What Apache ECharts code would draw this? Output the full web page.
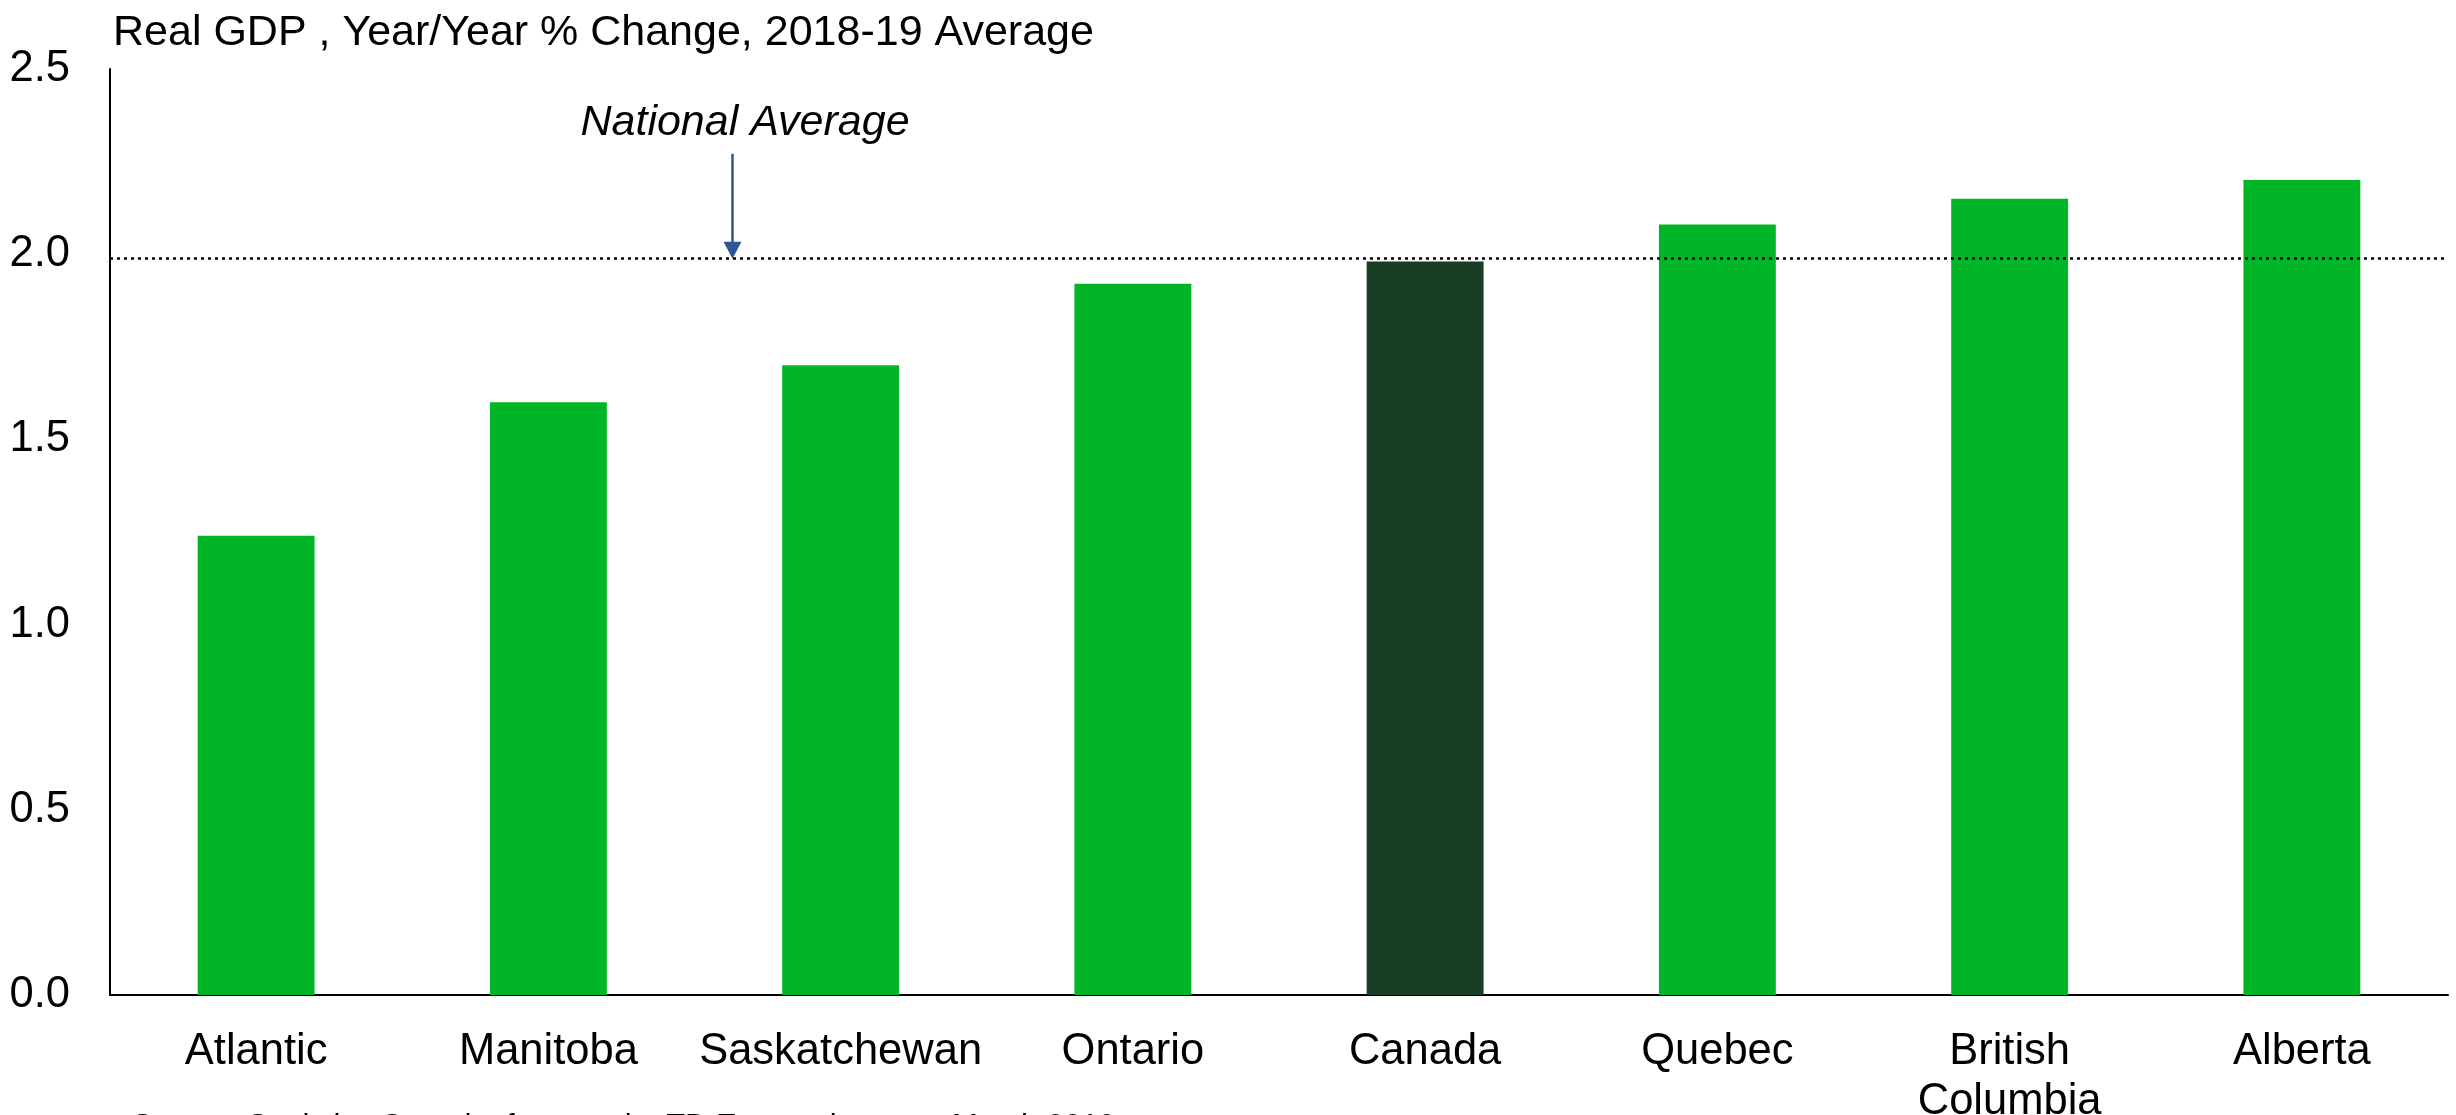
<!DOCTYPE html>
<html>
<head>
<meta charset="utf-8">
<script src="https://cdn.jsdelivr.net/npm/echarts@6/dist/echarts.min.js"></script>
<style>
  html, body { margin: 0; padding: 0; background: #fff; }
  #chart { width: 2456px; height: 1115px; }
</style>
</head>
<body>
<div id="chart"></div>
<script>
// 数据
var categories = ['Atlantic', 'Manitoba', 'Saskatchewan', 'Ontario', 'Canada', 'Quebec', 'British\nColumbia', 'Alberta']
var gdpGrowth = [1.24, 1.6, 1.7, 1.92, 1.98, 2.08, 2.15, 2.2]
var nationalAverage = 1.985
var yTicks = [0, 0.5, 1.0, 1.5, 2.0, 2.5]

var FONT = 'Liberation Sans, Arial, sans-serif'
var GREEN = '#00b626'
var DARK = '#183e25'

var chart = echarts.init(document.getElementById('chart'))

var option = {
  animation: false,
  backgroundColor: '#fff',
  textStyle: { fontFamily: FONT },
  title: [{
    text: 'Real GDP , Year/Year % Change, 2018-19 Average',
    left: 108,
    top: 7,
    textStyle: { fontSize: 43, fontWeight: 'normal', color: '#000', fontFamily: FONT }
  }, {
    text: 'Source: Statistics Canada, forecast by TD Economics as at March 2019',
    left: 127,
    top: 1107,
    textStyle: { fontSize: 31, fontWeight: 'normal', color: '#000', fontFamily: FONT }
  }],
  grid: {
    left: 110,
    right: 8,
    top: 69,
    bottom: 120,
    containLabel: false,
    outerBoundsMode: 'none'
  },
  xAxis: {
    type: 'category',
    data: categories,
    axisLine: { show: true, lineStyle: { color: '#000', width: 2 } },
    axisTick: { show: false },
    axisLabel: {
      color: '#000',
      fontSize: 43.5,
      fontFamily: FONT,
      margin: 32,
      lineHeight: 50,
      interval: 0
    }
  },
  yAxis: {
    type: 'value',
    min: yTicks[0],
    max: yTicks[yTicks.length - 1],
    interval: 0.5,
    axisLine: { show: true, lineStyle: { color: '#000', width: 2 } },
    axisTick: { show: false },
    splitLine: { show: false },
    axisLabel: {
      color: '#000',
      fontSize: 43.5,
      fontFamily: FONT,
      margin: 40,
      padding: [14, 0, 0, 0],
      formatter: function (v) { return v.toFixed(1) }
    }
  },
  series: [{
    type: 'bar',
    data: gdpGrowth.map(function (v, i) {
      return {
        value: v,
        itemStyle: { color: categories[i] === 'Canada' ? DARK : GREEN }
      }
    }),
    barWidth: '40%',
    markLine: {
      silent: true,
      symbol: 'none',
      label: { show: false },
      lineStyle: { color: '#000', type: [3, 4], width: 2.5 },
      data: [{ yAxis: nationalAverage }]
    }
  }]
}

chart.setOption(option)

// 注释: National Average 箭头
var p1 = chart.convertToPixel({ gridIndex: 0 }, [1, nationalAverage])
var p2 = chart.convertToPixel({ gridIndex: 0 }, [2, nationalAverage])
var ax = p1[0] + (p2[0] - p1[0]) * 0.63
var ay = p1[1]
chart.setOption({
  graphic: [{
    type: 'text',
    left: ax - 152,
    top: ay - 158,
    style: {
      text: 'National Average',
      fontSize: 43,
      fontStyle: 'italic',
      fontFamily: FONT,
      fill: '#000'
    }
  }, {
    type: 'line',
    shape: { x1: ax, y1: ay - 106, x2: ax, y2: ay - 16 },
    style: { stroke: '#2f5597', lineWidth: 2.5 }
  }, {
    type: 'polygon',
    shape: { points: [[ax - 9, ay - 18], [ax + 9, ay - 18], [ax, ay - 1]] },
    style: { fill: '#2f5597' }
  }]
})

window.addEventListener('resize', function () {
  chart.resize()
})
</script>
</body>
</html>
